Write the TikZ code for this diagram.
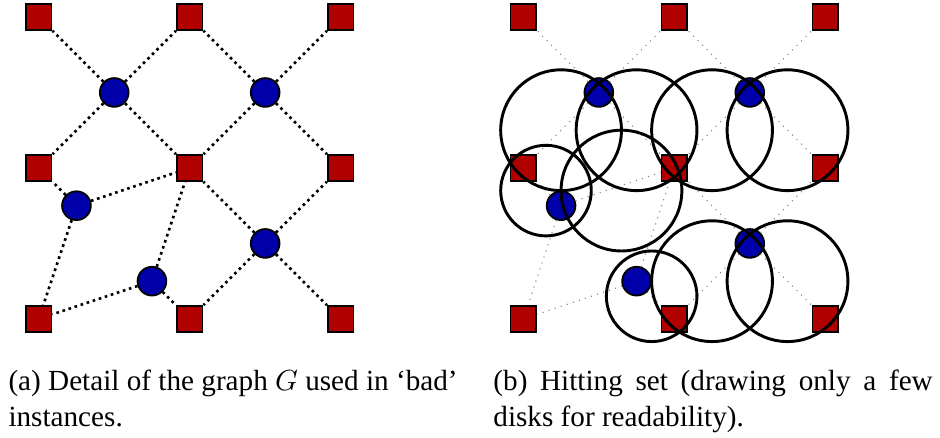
\documentclass[tikz,border=0pt]{standalone}
\usepackage{fontspec}
\setmainfont{Liberation Serif}
\usepackage{amsmath}
\usepackage{color}

\definecolor{sqred}{RGB}{176,0,0}
\definecolor{ptblue}{RGB}{0,0,170}

\begin{document}
\begin{tikzpicture}[
    sq/.style={draw=black, line width=0.7pt, fill=sqred, minimum size=0.34cm, inner sep=0pt},
    pt/.style={circle, draw=black, line width=0.7pt, fill=ptblue, minimum size=0.38cm, inner sep=0pt},
    link/.style={line width=1pt, dash pattern=on 1pt off 1.4pt},
    faint/.style={gray, line width=0.4pt, dotted},
    disk/.style={line width=1.1pt},
    capt/.style={anchor=base west, inner sep=0pt, align=justify, font=\fontsize{11}{13.4}\selectfont}
]

    % Fix the margins
    \useasboundingbox (-0.513,-1.576) rectangle (11.94,4.225);

    % Left panel: the grid of squares
    \foreach \i in {0,1,2}
        \foreach \j in {0,1,2}
            \node[sq] (a\i\j) at (2*\i,2*\j) {};

    % Left panel: the points
    \node[pt] (a1) at (1,3) {};
    \node[pt] (a2) at (3,3) {};
    \node[pt] (a3) at (0.5,1.5) {};
    \node[pt] (a4) at (3,1) {};
    \node[pt] (a5) at (1.5,0.5) {};

    % Left panel: the edges of G
    \foreach \p/\s in {a1/a02, a1/a12, a1/a01, a1/a11, a2/a12, a2/a22, a2/a11, a2/a21,
                       a3/a01, a3/a11, a3/a00, a4/a11, a4/a21, a4/a10, a4/a20,
                       a5/a11, a5/a00, a5/a10}
        \draw[link] (\p) -- (\s);

    % Right panel, shifted to the right
    \begin{scope}[xshift=6.42cm]
        \foreach \i in {0,1,2}
            \foreach \j in {0,1,2}
                \node[sq] (b\i\j) at (2*\i,2*\j) {};

        \node[pt] (b1) at (1,3) {};
        \node[pt] (b2) at (3,3) {};
        \node[pt] (b3) at (0.5,1.5) {};
        \node[pt] (b4) at (3,1) {};
        \node[pt] (b5) at (1.5,0.5) {};

        \foreach \p/\s in {b1/b02, b1/b12, b1/b01, b1/b11, b2/b12, b2/b22, b2/b11, b2/b21,
                           b3/b01, b3/b11, b3/b00, b4/b11, b4/b21, b4/b10, b4/b20,
                           b5/b11, b5/b00, b5/b10}
            \draw[faint] (\p) -- (\s);

        % Draw a few of the disks
        \foreach \x/\y/\r in {0.5/2.5/0.8, 1.5/2.5/0.8, 2.5/2.5/0.8, 3.5/2.5/0.8,
                              0.3/1.7/0.6, 1.3/1.7/0.8,
                              1.7/0.3/0.6, 2.5/0.5/0.8, 3.5/0.5/0.8}
            \draw[disk] (\x,\y) circle (\r);
    \end{scope}

    % Captions
    \node[capt, text width=5.95cm] (capa) at (-0.407,-0.954) {(a) Detail of the graph $G$ used in `bad' instances.};
    \node[capt, text width=5.82cm] (capb) at (6.017,-0.954) {(b) Hitting set (drawing only a few disks for readability).};
\end{tikzpicture}
\end{document}
